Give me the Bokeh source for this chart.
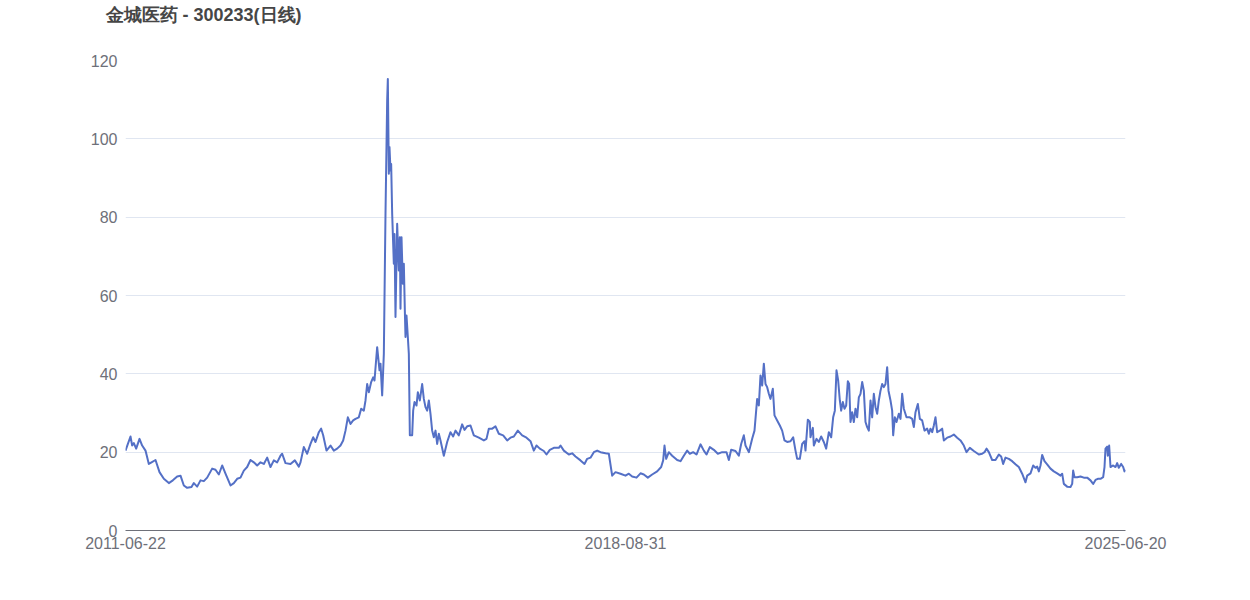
from bokeh.plotting import figure
from bokeh.models import Range1d, FixedTicker, ColumnDataSource, Title
from bokeh.embed import file_html
from bokeh.resources import INLINE

title_text = "金城医药 - 300233(日线)"
tick_labels = ["2011-06-22", "2018-08-31", "2025-06-20"]
tick_sessions = [0, 1500, 3000]
y_ticks = [0, 20, 40, 60, 80, 100, 120]

session = [
    0, 15, 20, 25, 32, 42, 50, 60, 70, 78, 90, 102, 115, 130, 142, 155, 165, 175, 185, 198,
    205, 215, 225, 235, 245, 260, 270, 280, 290, 300, 315, 325, 335, 345, 355, 365, 375, 385, 395, 405,
    415, 425, 435, 445, 455, 465, 470, 480, 495, 508, 520, 525, 535, 545, 555, 563, 570, 580, 587, 593,
    603, 615, 625, 635, 645, 653, 660, 667, 675, 683, 690, 700, 707, 715, 720, 725, 730, 737, 743, 747,
    755, 762, 765, 770, 775, 780, 785, 787, 790, 792, 795, 797, 800, 805, 807, 810, 815, 820, 823, 825,
    828, 832, 835, 838, 840, 843, 847, 850, 853, 860, 863, 867, 873, 877, 883, 890, 895, 900, 905, 910,
    915, 920, 925, 930, 935, 940, 945, 955, 965, 975, 983, 990, 1000, 1010, 1017, 1025, 1035, 1045, 1060, 1075,
    1083, 1090, 1100, 1110, 1120, 1133, 1145, 1155, 1165, 1177, 1190, 1203, 1215, 1225, 1233, 1243, 1255, 1263, 1273, 1285,
    1300, 1305, 1315, 1330, 1340, 1350, 1365, 1377, 1385, 1395, 1405, 1415, 1425, 1440, 1450, 1460, 1470, 1485, 1500, 1510,
    1520, 1533, 1545, 1555, 1567, 1580, 1595, 1607, 1613, 1617, 1622, 1630, 1640, 1655, 1665, 1675, 1685, 1693, 1703, 1713,
    1725, 1735, 1743, 1753, 1765, 1777, 1790, 1803, 1810, 1817, 1830, 1840, 1847, 1855, 1860, 1870, 1880, 1887, 1892, 1895,
    1900, 1905, 1910, 1915, 1920, 1925, 1930, 1935, 1942, 1947, 1955, 1963, 1970, 1977, 1985, 1995, 2003, 2010, 2015, 2023,
    2030, 2037, 2040, 2047, 2053, 2055, 2062, 2065, 2073, 2080, 2087, 2095, 2102, 2110, 2117, 2123, 2128, 2133, 2138, 2143,
    2147, 2152, 2157, 2162, 2167, 2171, 2175, 2180, 2185, 2190, 2195, 2200, 2205, 2210, 2215, 2220, 2225, 2230, 2235, 2240,
    2245, 2250, 2255, 2260, 2265, 2270, 2275, 2280, 2285, 2289, 2295, 2300, 2303, 2308, 2313, 2320, 2325, 2330, 2335, 2343,
    2353, 2360, 2365, 2370, 2377, 2383, 2390, 2397, 2405, 2410, 2415, 2420, 2425, 2430, 2435, 2443, 2450, 2455, 2465, 2475,
    2485, 2495, 2505, 2515, 2523, 2533, 2545, 2560, 2570, 2577, 2583, 2590, 2600, 2610, 2620, 2627, 2633, 2640, 2650, 2660,
    2670, 2680, 2690, 2700, 2705, 2715, 2723, 2730, 2735, 2740, 2745, 2750, 2757, 2765, 2775, 2785, 2795, 2805, 2810, 2815,
    2825, 2835, 2840, 2843, 2847, 2855, 2865, 2875, 2885, 2895, 2903, 2910, 2917, 2925, 2933, 2937, 2940, 2945, 2947, 2951,
    2955, 2963, 2970, 2975, 2980, 2987, 2993, 2997, 3000,
]

close = [
    20.4, 24.0, 21.7, 22.3, 20.9, 23.4, 21.7, 20.4, 17.0, 17.4, 18.0, 14.9, 13.2, 12.1, 12.8, 13.8, 14.0, 11.5, 10.9, 11.1,
    12.1, 11.2, 12.8, 12.6, 13.5, 15.8, 15.5, 14.3, 16.6, 14.5, 11.5, 12.1, 13.2, 13.5, 15.3, 16.2, 18.0, 17.4, 16.6, 17.4,
    17.0, 18.6, 16.2, 17.9, 17.4, 19.1, 19.6, 17.2, 17.0, 17.9, 16.3, 17.4, 21.3, 19.6, 22.1, 23.8, 22.6, 25.1, 26.0, 24.3,
    20.4, 21.7, 20.4, 20.9, 21.7, 23.0, 25.5, 28.9, 27.2, 28.1, 28.5, 28.9, 31.1, 30.6, 33.2, 37.4, 35.3, 37.9, 39.1, 38.3,
    46.8, 40.9, 42.6, 34.5, 45.1, 80.9, 109.8, 115.3, 91.1, 97.9, 91.9, 93.6, 80.9, 68.1, 75.7, 54.5, 78.3, 66.4, 74.9, 56.6,
    74.9, 63.0, 68.1, 56.2, 49.4, 54.9, 49.4, 45.1, 24.3, 24.3, 30.6, 32.8, 31.9, 35.3, 33.2, 37.4, 33.6, 31.5, 30.6, 33.2,
    29.8, 25.5, 23.8, 25.5, 22.1, 24.7, 23.0, 19.1, 22.6, 25.1, 24.0, 25.5, 24.3, 27.1, 25.7, 26.6, 26.8, 24.3, 23.7, 23.0,
    23.4, 26.0, 26.0, 26.6, 24.7, 24.3, 23.0, 23.7, 24.0, 25.5, 24.3, 23.7, 22.8, 20.4, 21.7, 20.9, 20.3, 19.4, 20.6, 21.1,
    21.1, 21.7, 20.4, 19.4, 19.7, 18.9, 17.9, 17.0, 18.3, 18.6, 20.0, 20.4, 20.0, 19.7, 19.6, 14.0, 14.9, 14.5, 14.0, 14.5,
    13.8, 13.5, 14.6, 14.3, 13.5, 14.3, 15.1, 16.2, 17.9, 21.7, 18.3, 20.0, 19.1, 18.0, 17.7, 19.1, 20.4, 19.6, 20.0, 19.4,
    22.0, 20.4, 19.4, 21.3, 20.6, 19.6, 20.0, 20.0, 18.0, 20.6, 20.3, 19.1, 22.1, 24.3, 21.7, 20.0, 23.4, 25.5, 30.6, 33.6,
    31.9, 39.6, 37.0, 42.6, 37.4, 36.6, 34.9, 33.6, 36.2, 29.4, 28.1, 26.8, 25.5, 23.0, 22.6, 22.8, 23.8, 20.4, 18.3, 18.3,
    22.1, 22.8, 20.4, 28.3, 27.7, 23.8, 26.2, 21.7, 23.4, 22.6, 24.0, 22.6, 20.9, 25.1, 23.8, 28.9, 30.6, 40.9, 38.3, 33.2,
    30.6, 32.8, 31.1, 31.9, 38.1, 37.4, 27.7, 30.2, 27.7, 31.1, 28.9, 34.0, 34.9, 37.9, 35.7, 27.7, 26.4, 25.5, 33.2, 28.9,
    34.9, 31.5, 29.8, 33.2, 35.7, 37.4, 36.6, 37.4, 41.7, 35.7, 33.2, 30.6, 24.3, 28.9, 27.7, 29.8, 28.5, 34.9, 31.1, 28.9,
    28.9, 28.5, 26.4, 30.2, 32.3, 28.5, 28.1, 25.5, 26.0, 24.7, 26.0, 25.1, 26.8, 28.9, 25.1, 25.5, 26.0, 23.0, 23.7, 24.0,
    24.5, 23.7, 23.0, 21.7, 20.0, 21.1, 20.3, 19.4, 19.6, 20.0, 20.9, 20.0, 18.0, 18.0, 19.4, 18.9, 17.0, 18.6, 18.3, 17.7,
    16.9, 16.2, 14.5, 12.3, 14.0, 14.6, 16.6, 16.0, 16.3, 15.1, 16.6, 19.3, 17.7, 16.9, 15.8, 15.1, 14.6, 14.0, 14.5, 11.9,
    11.2, 11.1, 11.9, 15.3, 13.6, 13.6, 13.8, 13.5, 13.5, 12.8, 11.9, 12.9, 13.2, 13.2, 13.6, 16.2, 20.9, 21.4, 19.1, 21.7,
    16.2, 16.6, 16.2, 17.2, 16.0, 17.0, 16.2, 15.1, 15.5,
]

GRAY = "#6e7079"
LINE = "#5470c6"

source = ColumnDataSource(data=dict(session=session, close=close))

p = figure(
    width=1234, height=584,
    output_backend="svg", toolbar_location=None,
    x_range=Range1d(tick_sessions[0], tick_sessions[-1]),
    y_range=Range1d(y_ticks[0], y_ticks[-1]),
    min_border_left=125, min_border_right=109,
    min_border_top=60, min_border_bottom=54,
)
# chart title (outermost panel above the frame)
p.title = Title(
    text=title_text, text_font="Liberation Sans", text_font_style="bold",
    text_font_size="18px", text_color="#464646", align="left",
    offset=-20, standoff=0,
)
# spacer panel between the title and the plot frame
p.add_layout(Title(text=" ", text_font_size="1px", standoff=33, text_color="white"), "above")

p.outline_line_color = None
p.background_fill_color = "white"
p.border_fill_color = "white"

p.line("session", "close", source=source, line_color=LINE, line_width=2, line_join="round")

# x axis
xa = p.xaxis[0]
xa.ticker = FixedTicker(ticks=tick_sessions)
xa.major_label_overrides = {t: l for t, l in zip(tick_sessions, tick_labels)}
xa.major_tick_line_color = None
xa.major_tick_out = 0
xa.major_tick_in = 0
xa.minor_tick_line_color = None
xa.axis_line_color = GRAY
xa.axis_line_width = 1
xa.major_label_text_color = GRAY
xa.major_label_text_font = "Liberation Sans"
xa.major_label_text_font_size = "16px"
xa.major_label_standoff = 6

# y axis
ya = p.yaxis[0]
ya.ticker = FixedTicker(ticks=y_ticks)
ya.major_tick_line_color = None
ya.major_tick_out = 0
ya.major_tick_in = 0
ya.minor_tick_line_color = None
ya.axis_line_color = None
ya.major_label_text_color = GRAY
ya.major_label_text_font = "Liberation Sans"
ya.major_label_text_font_size = "16px"
ya.major_label_standoff = 8

p.xgrid.grid_line_color = None
p.ygrid.grid_line_color = "#e0e6f1"
p.ygrid.grid_line_width = 1

open("out.html", "w").write(file_html(p, INLINE))
